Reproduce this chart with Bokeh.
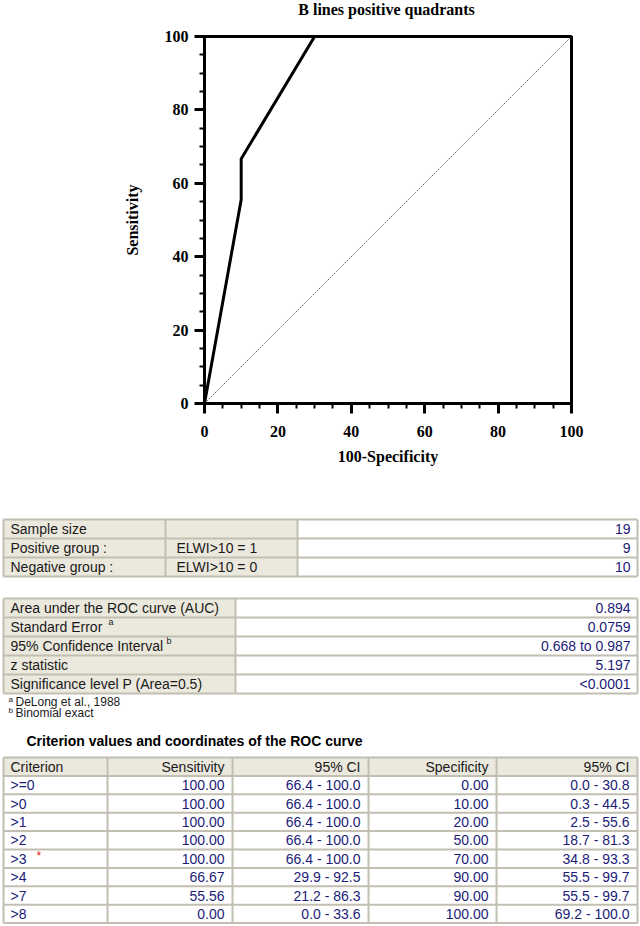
from bokeh.plotting import figure
from bokeh.models import Range1d, FixedTicker
from bokeh.embed import file_html
from bokeh.resources import INLINE
from bokeh.core.properties import value

# ---------------- data ----------------
criteria = [">=0", ">0", ">1", ">2", ">3", ">4", ">7", ">8"]
sensitivity = [100.00, 100.00, 100.00, 100.00, 100.00, 66.67, 55.56, 0.00]
sens_ci = ["66.4 - 100.0", "66.4 - 100.0", "66.4 - 100.0", "66.4 - 100.0",
           "66.4 - 100.0", "29.9 - 92.5", "21.2 - 86.3", "0.0 - 33.6"]
specificity = [0.00, 10.00, 20.00, 50.00, 70.00, 90.00, 90.00, 100.00]
spec_ci = ["0.0 - 30.8", "0.3 - 44.5", "2.5 - 55.6", "18.7 - 81.3",
           "34.8 - 93.3", "55.5 - 99.7", "55.5 - 99.7", "69.2 - 100.0"]
optimal_criterion = ">3"

chance_x = [0, 100]
chance_y = [0, 100]
major_ticks = [0, 20, 40, 60, 80, 100]
minor_ticks = [5, 10, 15, 25, 30, 35, 45, 50, 55, 65, 70, 75, 85, 90, 95]

chart_title = "B lines positive quadrants"
sample_labels = ["Sample size", "Positive group :", "Negative group :"]
sample_codes = ["", "ELWI>10 = 1", "ELWI>10 = 0"]
sample_values = ["19", "9", "10"]

auc_labels = ["Area under the ROC curve (AUC)", "Standard Error",
              "95% Confidence Interval", "z statistic",
              "Significance level P (Area=0.5)"]
auc_notes = ["", "a", "b", "", ""]
auc_values = ["0.894", "0.0759", "0.668 to 0.987", "5.197", "<0.0001"]
footnote_marks = ["a", "b"]
footnote_texts = ["DeLong et al., 1988", "Binomial exact"]

table_title = "Criterion values and coordinates of the ROC curve"
table_headers = ["Criterion", "Sensitivity", "95% CI", "Specificity", "95% CI"]

# ---------------- styles ----------------
SERIF = "Liberation Serif"
SANS = "Liberation Sans"
NAVY = "#1c1c78"
INK = "#1a1a1a"
BEIGE = "#EBE8DD"
RULE = "#C2BEB2"

# ---------------- title strip ----------------
ts = figure(width=640, height=22, x_range=Range1d(0, 640), y_range=Range1d(22, 0),
            output_backend="svg", toolbar_location=None, min_border=0,
            x_axis_type=None, y_axis_type=None)
ts.grid.visible = False
ts.outline_line_color = None
ts.text(x=[386], y=[9], text=[chart_title], text_align="center",
        text_baseline="middle", text_color="black", text_font=value(SERIF),
        text_font_size=value("16px"), text_font_style="bold")

# ---------------- ROC figure ----------------
roc_x = [100 - s for s in specificity]
roc_y = sensitivity

p = figure(width=640, height=458, x_range=Range1d(0, 100), y_range=Range1d(0, 100),
           output_backend="svg", toolbar_location=None,
           min_border_left=204, min_border_right=69, min_border_top=14,
           min_border_bottom=77)
p.grid.visible = False
p.outline_line_color = "black"
p.outline_line_width = 3
p.outline_line_alpha = 1

p.line(chance_x, chance_y, line_color="#7a7a7a", line_width=1, line_dash="2 1")
p.line(roc_x, roc_y, line_color="black", line_width=3, line_join="miter")

for ax in (p.xaxis[0], p.yaxis[0]):
    ax.ticker = FixedTicker(ticks=major_ticks, minor_ticks=minor_ticks)
    ax.axis_line_width = 3
    ax.axis_line_color = "black"
    ax.major_tick_line_width = 3
    ax.major_tick_out = 10
    ax.major_tick_in = 0
    ax.minor_tick_line_width = 2
    ax.minor_tick_out = 5
    ax.minor_tick_in = 0
    ax.major_label_text_font = SERIF
    ax.major_label_text_font_size = "16px"
    ax.major_label_text_font_style = "bold"
    ax.major_label_text_color = "black"
    ax.axis_label_text_font = SERIF
    ax.axis_label_text_font_size = "16px"
    ax.axis_label_text_font_style = "bold"
    ax.axis_label_text_color = "black"

p.xaxis.axis_label = "100-Specificity"
p.yaxis.axis_label = "Sensitivity"
p.xaxis.major_label_standoff = 12
p.yaxis.major_label_standoff = 6
p.xaxis.axis_label_standoff = 8
p.yaxis.axis_label_standoff = 21

# ---------------- tables figure ----------------
t = figure(width=640, height=445, x_range=Range1d(0, 640), y_range=Range1d(925, 480),
           output_backend="svg", toolbar_location=None, min_border=0,
           x_axis_type=None, y_axis_type=None)
t.grid.visible = False
t.outline_line_color = None

cells = dict(left=[], right=[], top=[], bottom=[], color=[])
rules = dict(x0=[], y0=[], x1=[], y1=[])


def add_table(cols, top, row_h, nrows, fills):
    edges = [top + i * row_h for i in range(nrows + 1)]
    for r in range(nrows):
        for c in range(len(cols) - 1):
            cells["left"].append(cols[c]); cells["right"].append(cols[c + 1])
            cells["top"].append(edges[r]); cells["bottom"].append(edges[r + 1])
            cells["color"].append(fills(r, c))
    for e in edges:
        rules["x0"].append(cols[0]); rules["x1"].append(cols[-1])
        rules["y0"].append(e); rules["y1"].append(e)
    for c in cols:
        rules["x0"].append(c); rules["x1"].append(c)
        rules["y0"].append(edges[0]); rules["y1"].append(edges[-1])
    return [(edges[i] + edges[i + 1]) / 2 for i in range(nrows)]


def add_text(xs, ys, texts, align, color, size="14px", style="normal"):
    t.text(x=xs, y=ys, text=texts, text_align=align, text_baseline="middle",
           text_color=color, text_font=value(SANS), text_font_size=value(size),
           text_font_style=style)


# table 1
T1_COLS = [3, 165, 297, 637]
t1_y = add_table(T1_COLS, 519, 19, len(sample_labels),
                 lambda r, c: BEIGE if c < 2 else "white")
# table 2
T2_COLS = [3, 235, 637]
t2_y = add_table(T2_COLS, 598, 19, len(auc_labels),
                 lambda r, c: BEIGE if c < 1 else "white")
# table 3
T3_COLS = [3, 107, 232, 368, 496, 637]
t3_y = add_table(T3_COLS, 757, 18.4, len(criteria) + 1,
                 lambda r, c: BEIGE if r == 0 else "white")

t.quad(left="left", right="right", top="top", bottom="bottom", fill_color="color",
       line_color=None, source=cells)
t.segment(x0="x0", y0="y0", x1="x1", y1="y1", line_color=RULE, line_width=2,
          source=rules)

# table 1 text
add_text([10] * len(sample_labels), t1_y, sample_labels, "left", INK)
add_text([176] * len(sample_codes), t1_y, sample_codes, "left", INK)
add_text([630] * len(sample_values), t1_y, sample_values, "right", NAVY)

# table 2 text
add_text([10] * len(auc_labels), t2_y, auc_labels, "left", INK)
add_text([630] * len(auc_values), t2_y, auc_values, "right", NAVY)
note_x = {"a": 108, "b": 166}
nx = [note_x[n] for n in auc_notes if n]
ny = [y - 5 for y, n in zip(t2_y, auc_notes) if n]
add_text(nx, ny, [n for n in auc_notes if n], "left", INK, size="9px")

# footnotes
fy = [701, 712]
add_text([8] * len(footnote_marks), [y - 2 for y in fy], footnote_marks, "left", INK, size="8px")
add_text([15] * len(footnote_texts), fy, footnote_texts, "left", INK, size="12px")

# table 3 heading
add_text([26], [740], [table_title], "left", "black", size="14px", style="bold")

# table 3 header
hx = [10] + [c - 8 for c in T3_COLS[2:]]
add_text(hx[:1], t3_y[:1], table_headers[:1], "left", INK)
add_text(hx[1:], t3_y[:1] * 4, table_headers[1:], "right", INK)

# table 3 body
body_y = t3_y[1:]
add_text([10] * len(criteria), body_y, criteria, "left", NAVY)
add_text([hx[1]] * len(criteria), body_y, [f"{v:.2f}" for v in sensitivity], "right", NAVY)
add_text([hx[2]] * len(criteria), body_y, sens_ci, "right", NAVY)
add_text([hx[3]] * len(criteria), body_y, [f"{v:.2f}" for v in specificity], "right", NAVY)
add_text([hx[4]] * len(criteria), body_y, spec_ci, "right", NAVY)
star_y = [y - 3 for y, c in zip(body_y, criteria) if c == optimal_criterion]
add_text([36] * len(star_y), star_y, ["*"] * len(star_y), "left", "#e02020", size="12px")

open("out.html", "w").write(file_html([ts, p, t], INLINE))
